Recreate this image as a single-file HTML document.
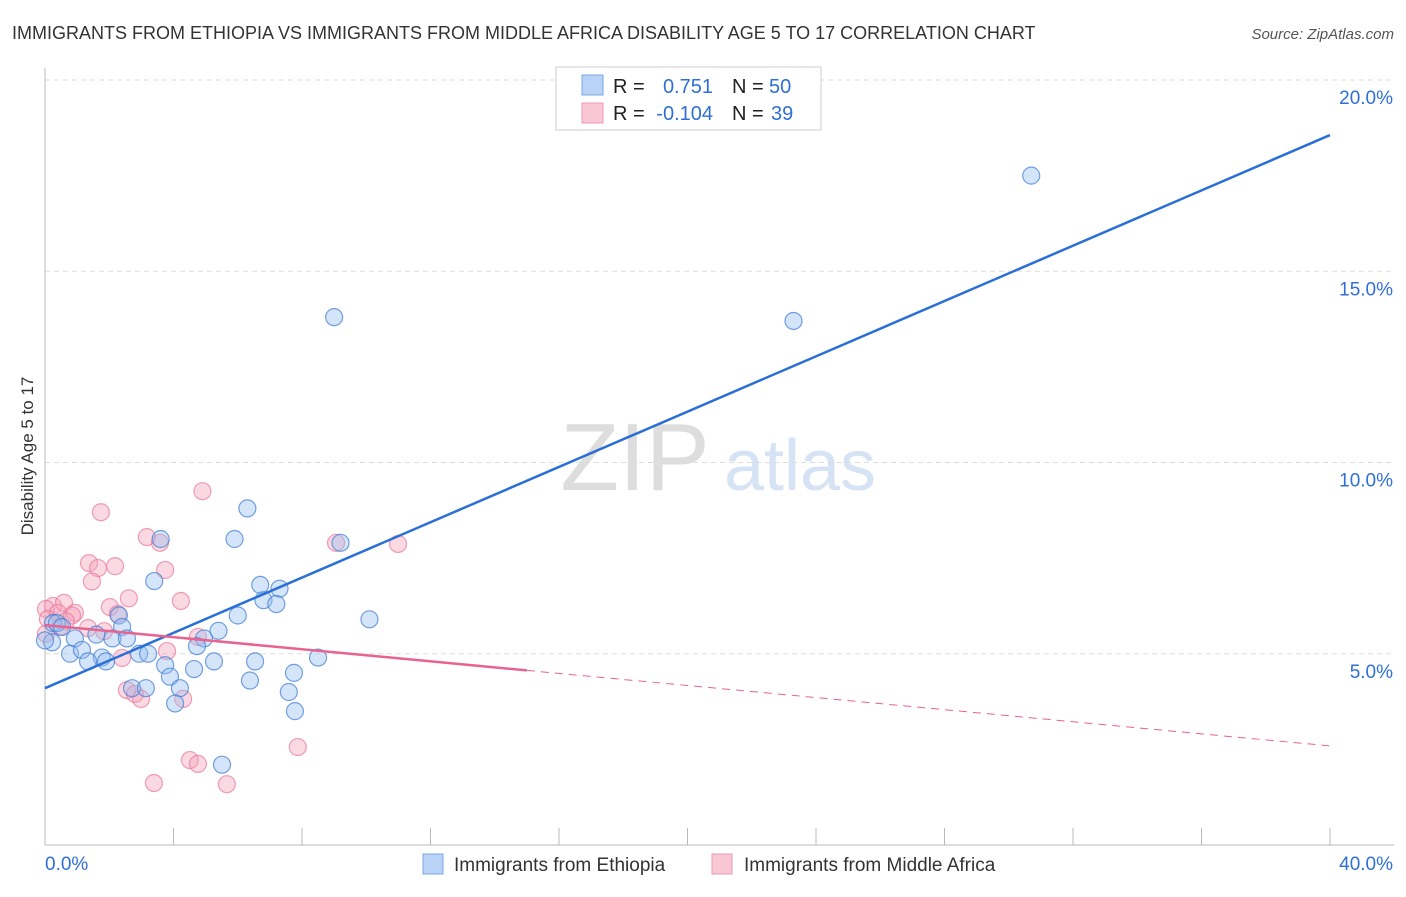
<!DOCTYPE html>
<html><head><meta charset="utf-8"><style>
body{margin:0;background:#fff;font-family:"Liberation Sans",sans-serif;}
svg text{font-family:"Liberation Sans",sans-serif;}
</style></head><body>
<svg id="chart" width="1406" height="892" xmlns="http://www.w3.org/2000/svg">
<text x="12" y="39" font-size="18" fill="#333">IMMIGRANTS FROM ETHIOPIA VS IMMIGRANTS FROM MIDDLE AFRICA DISABILITY AGE 5 TO 17 CORRELATION CHART</text>
<text x="1394" y="39" font-size="15" fill="#555" text-anchor="end" font-style="italic">Source: ZipAtlas.com</text>
<text transform="translate(33,456) rotate(-90)" font-size="17" fill="#333" text-anchor="middle">Disability Age 5 to 17</text>
<g><text x="635" y="490" font-size="96" fill="#ddd" font-family="Liberation Serif" text-anchor="middle">ZIP</text><text x="800" y="490" font-size="72" fill="#d6e3f5" text-anchor="middle">atlas</text></g>
<g id="grid"></g><g id="axes"></g><g id="marks"></g>
<g>
<rect x="556" y="67" width="265" height="63" fill="#fff" stroke="#ccc"/>
<rect x="582" y="75" width="21" height="20" fill="#b8d3f5" stroke="#7aa8e6"/>
<rect x="582" y="103" width="21" height="20" fill="#f9c6d5" stroke="#ee9ab4"/>
<text x="613" y="93" font-size="20" fill="#222">R = </text><text x="713" y="93" font-size="20" fill="#2f6fd6" text-anchor="end">0.751</text>
<text x="732" y="93" font-size="20" fill="#222">N = </text><text x="769" y="93" font-size="20" fill="#2f6fd6">50</text>
<text x="613" y="120" font-size="20" fill="#222">R = </text><text x="713" y="120" font-size="20" fill="#2f6fd6" text-anchor="end">-0.104</text>
<text x="732" y="120" font-size="20" fill="#222">N = </text><text x="771" y="120" font-size="20" fill="#2f6fd6">39</text>
</g>
<g>
<rect x="423" y="854" width="20" height="20" fill="#b8d3f5" stroke="#7aa8e6"/>
<text x="454" y="871" font-size="19" fill="#333">Immigrants from Ethiopia</text>
<rect x="712" y="854" width="20" height="20" fill="#f9c6d5" stroke="#ee9ab4"/>
<text x="744" y="871" font-size="19" fill="#333">Immigrants from Middle Africa</text>
</g>
</svg>
<script>
const xTicks=[0,4,8,12,16,20,24,28,32,36,40];
const yTicks=[5,10,15,20];
const yTickLabels=["5.0%","10.0%","15.0%","20.0%"];
const blueX=[30.7,9.0,23.3,6.3,3.6,5.9,9.2,3.4,6.7,7.3,6.8,7.2,2.3,6.0,10.1,0.25,0.37,0.53,2.4,5.4,1.6,2.1,2.55,4.95,0.22,0.93,4.73,0.78,1.15,2.93,3.21,8.5,1.77,1.34,1.9,5.26,6.54,3.74,7.75,4.64,3.89,6.38,2.71,3.14,4.2,7.59,4.05,7.78,5.51,0.0];
const blueY=[17.5,13.8,13.7,8.8,8.0,8.0,7.9,6.9,6.8,6.7,6.4,6.3,6.0,6.0,5.9,5.8,5.8,5.7,5.7,5.6,5.5,5.4,5.4,5.4,5.3,5.4,5.2,5.0,5.1,5.0,5.0,4.9,4.9,4.8,4.8,4.8,4.8,4.7,4.5,4.6,4.4,4.3,4.1,4.1,4.1,4.0,3.7,3.5,2.1,5.35];
const pinkX=[4.9,1.74,3.17,3.58,9.06,10.99,1.37,2.18,1.65,3.74,1.46,2.61,4.23,0.25,0.59,2.02,0.03,0.4,0.93,0.84,2.27,0.65,0.09,1.34,1.84,0.03,4.76,3.8,2.4,2.55,2.8,2.99,4.3,7.87,4.51,4.76,3.39,5.66,0.47];
const pinkY=[9.25,8.7,8.05,7.9,7.9,7.87,7.37,7.29,7.24,7.19,6.89,6.45,6.38,6.25,6.33,6.22,6.17,6.07,6.07,6.0,6.04,5.85,5.91,5.67,5.59,5.52,5.44,5.07,4.89,4.05,3.95,3.82,3.82,2.56,2.22,2.12,1.62,1.59,5.7];
const blueTrend=[4.1,18.56];
const pinkTrend=[5.75,2.59];
const pinkSolidEnd=15;
const X=v=>45+v/40*1285, Y=v=>845-v*38.25;
const NS="http://www.w3.org/2000/svg";
function mk(parent,tag,attrs){const e=document.createElementNS(NS,tag);for(const k in attrs)e.setAttribute(k,attrs[k]);document.getElementById(parent).appendChild(e);return e;}
yTicks.forEach((t,i)=>{
  const g=mk('grid','line',{x1:45,x2:1394,y1:Y(t),y2:Y(t),stroke:'#ddd','stroke-dasharray':'5,4'});
  
  
  const l=mk('axes','text',{x:1393,y:Y(t)+24,'font-size':19,fill:'#2f6fd6','text-anchor':'end'});
  l.textContent=yTickLabels[i];
  
  
});
const ax=mk('axes','line',{x1:45,x2:45,y1:68,y2:845,stroke:'#bbb'});


const bx=mk('axes','line',{x1:45,x2:1394,y1:845,y2:845,stroke:'#bbb'});


xTicks.forEach(t=>{
  const tk=mk('axes','line',{x1:X(t),x2:X(t),y1:828,y2:845,stroke:'#bbb'});
  
  
});
const xl0=mk('axes','text',{x:45,y:870,'font-size':19,fill:'#2f6fd6'});xl0.textContent='0.0%';


const xl1=mk('axes','text',{x:1393,y:870,'font-size':19,fill:'#2f6fd6','text-anchor':'end'});xl1.textContent='40.0%';


pinkX.forEach((x,i)=>{
  const c=mk('marks','circle',{cx:X(x),cy:Y(pinkY[i]),r:8.5,fill:'rgba(244,160,186,0.4)',stroke:'rgba(232,120,155,0.7)','stroke-width':1.2});
  
  
});
blueX.forEach((x,i)=>{
  const c=mk('marks','circle',{cx:X(x),cy:Y(blueY[i]),r:8.5,fill:'rgba(150,190,240,0.4)',stroke:'rgba(70,130,215,0.75)','stroke-width':1.2});
  
  
});
const bt=mk('marks','line',{x1:X(0),y1:Y(blueTrend[0]),x2:X(40),y2:Y(blueTrend[1]),stroke:'#2a6fd6','stroke-width':2.5});


const py=x=>pinkTrend[0]+(pinkTrend[1]-pinkTrend[0])*x/40;
const pt=mk('marks','line',{x1:X(0),y1:Y(py(0)),x2:X(pinkSolidEnd),y2:Y(py(pinkSolidEnd)),stroke:'#e8638f','stroke-width':2.5});


const pd=mk('marks','line',{x1:X(pinkSolidEnd),y1:Y(py(pinkSolidEnd)),x2:X(40),y2:Y(py(40)),stroke:'#e8638f','stroke-width':1,'stroke-dasharray':'8,6'});


</script>
</body></html>
